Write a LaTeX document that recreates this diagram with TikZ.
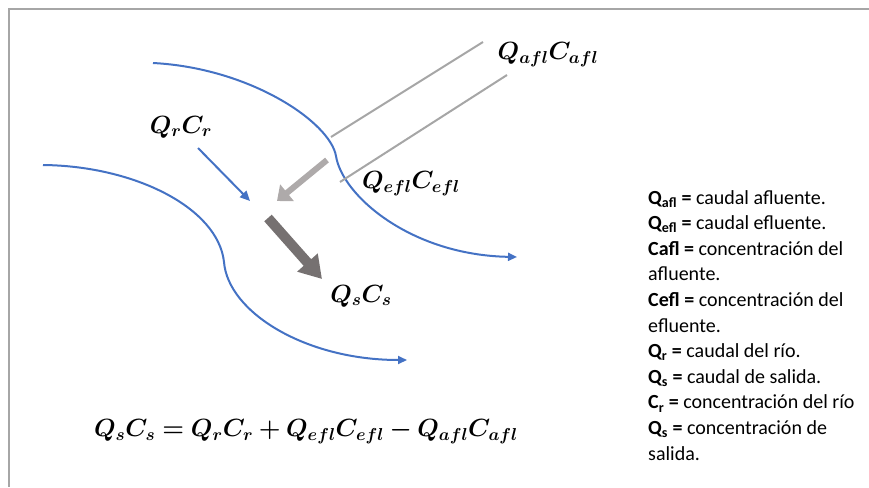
\documentclass[tikz,border=0pt]{standalone}
\usepackage{fontspec}
\usepackage{amsmath}
\usepackage{bm}
\usetikzlibrary{arrows.meta}
\newfontfamily\legendfont{Carlito}
\definecolor{riverblue}{HTML}{4472C4}
\definecolor{framegray}{HTML}{A6A6A6}
\definecolor{pipegray}{HTML}{AEAAAA}
\definecolor{darkgray2}{HTML}{767171}
\tikzset{
  river/.style={draw=riverblue, line width=2pt, -{Triangle[length=9pt,width=8pt]}},
  pipe/.style={draw=framegray, line width=2pt},
  qlabel/.style={inner sep=0pt, font=\fontsize{25}{28}\selectfont},
  legend/.style={inner sep=0pt, anchor=north west, align=left, font=\legendfont\fontsize{20}{25.6}\selectfont}
}
\newcommand{\bsub}[1]{\textsubscript{\textbf{#1}}}
\begin{document}
\begin{tikzpicture}[x=1pt,y=-1pt]
\useasboundingbox (0,0) rectangle (869,487);
% frame
\coordinate (fA) at (869,9.5);
\coordinate (fB) at (8.5,9.5);
\coordinate (fC) at (8.5,487);
\draw[framegray, line width=2pt] (fA) -- (fB) -- (fC);

% upper river bank
\coordinate (u0) at (153,63);
\coordinate (u1) at (336,156);
\coordinate (u2) at (517,257);
\draw[river] (u0) .. controls (250,68) and (330,122) .. (u1)
                 .. controls (342,195) and (410,255) .. (u2);

% lower river bank
\coordinate (l0) at (43,165);
\coordinate (l1) at (224,262);
\coordinate (l2) at (407,360);
\draw[river] (l0) .. controls (135,166) and (218,208) .. (l1)
                 .. controls (228,312) and (305,360) .. (l2);

% pipes
\coordinate (p1s) at (331,137);
\coordinate (p1e) at (483,42);
\coordinate (p2s) at (340,182);
\coordinate (p2e) at (507,75);
\draw[pipe] (p1s) -- (p1e);
\draw[pipe] (p2s) -- (p2e);

% Qr arrow
\coordinate (qr0) at (198,148);
\coordinate (qr1) at (250,201);
\draw[riverblue, line width=2pt, -{Triangle[length=10pt,width=9pt]}] (qr0) -- (qr1);

% effluent arrow
\coordinate (ef0) at (327,160);
\coordinate (ef1) at (277,201);
\draw[pipegray, line width=6pt, -{Triangle[length=13pt,width=21pt]}] (ef0) -- (ef1);

% outflow arrow
\coordinate (os0) at (268,218);
\coordinate (os1) at (322,279);
\draw[darkgray2, line width=10pt, -{Triangle[length=22pt,width=26pt]}] (os0) -- (os1);

% labels
\node[qlabel] (lafl) at (548,55) {$\bm{Q_{afl}C_{afl}}$};
\node[qlabel] (lr) at (181,127) {$\bm{Q_{r}C_{r}}$};
\node[qlabel] (lefl) at (411,184) {$\bm{Q_{efl}C_{efl}}$};
\node[qlabel] (ls) at (361,296) {$\bm{Q_{s}C_{s}}$};
\node[qlabel] (eq) at (306,432) {$\bm{Q_{s}C_{s} = Q_{r}C_{r} + Q_{efl}C_{efl} - Q_{afl}C_{afl}}$};

% legend
\node[legend] (leg) at (648,190) {%
\textbf{Q\bsub{afl} =} caudal afluente.\\
\textbf{Q\bsub{efl} =} caudal efluente.\\
\textbf{Cafl =} concentración del\\
afluente.\\
\textbf{Cefl =} concentración del\\
efluente.\\
\textbf{Q\bsub{r} =} caudal del río.\\
\textbf{Q\bsub{s} =} caudal de salida.\\
\textbf{C\bsub{r} =} concentración del río\\
\textbf{Q\bsub{s} =} concentración de\\
salida.};
\end{tikzpicture}
\end{document}
